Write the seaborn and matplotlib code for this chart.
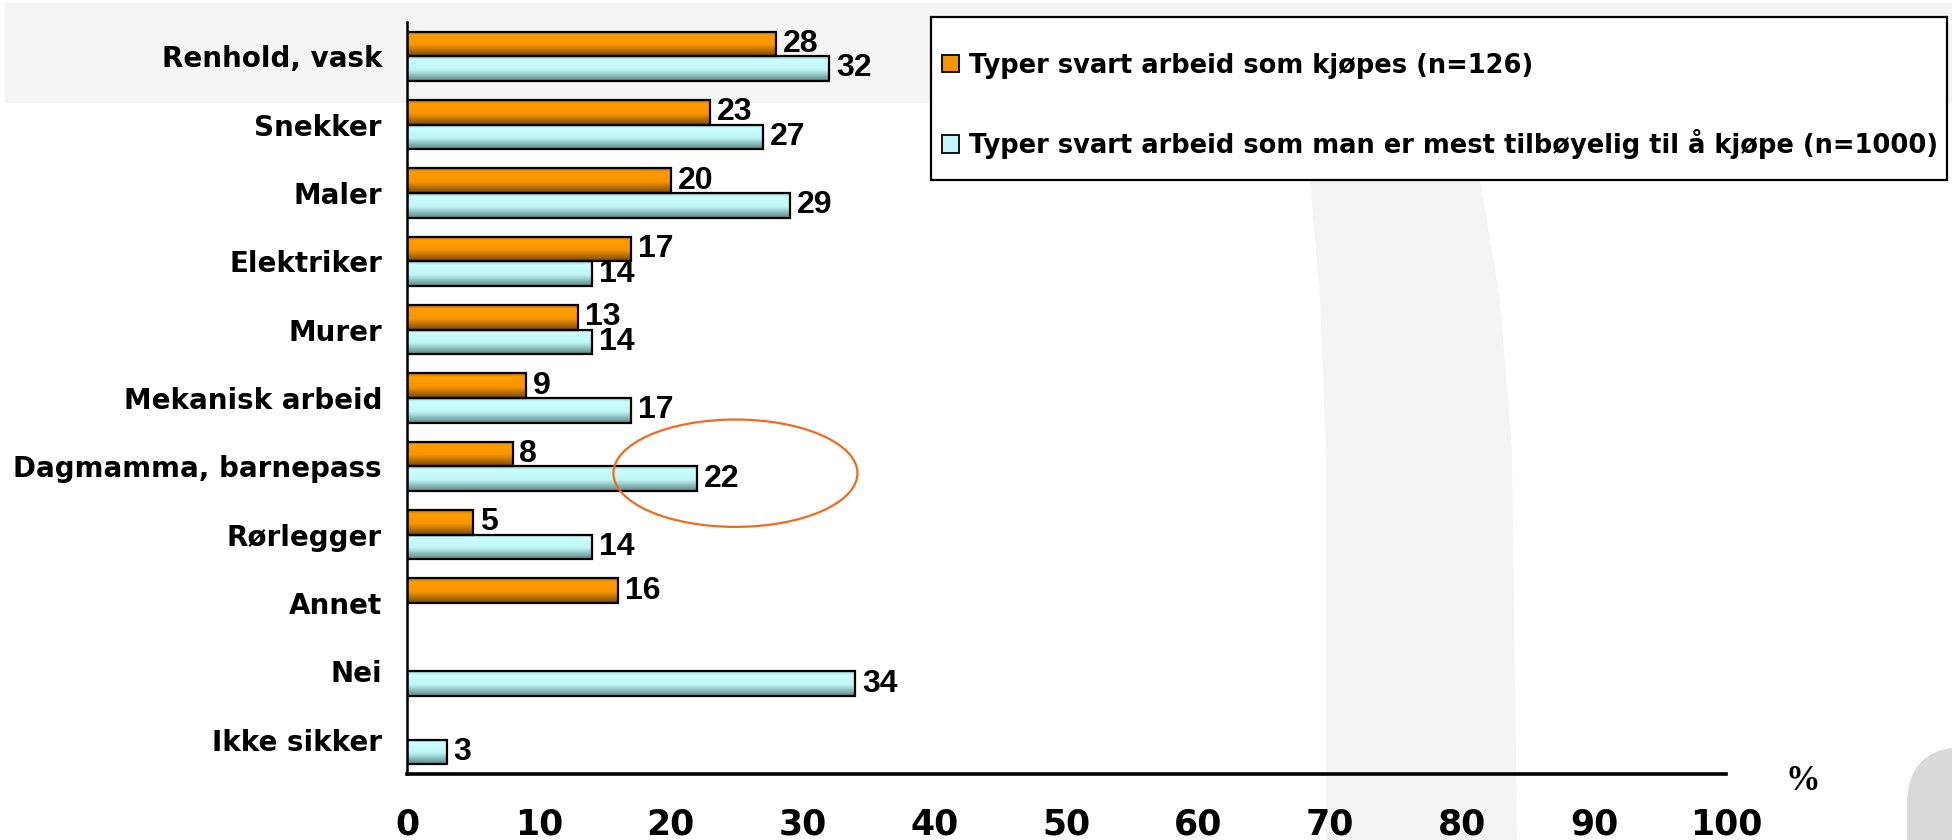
import numpy as np
import pandas as pd
import matplotlib
matplotlib.use("Agg")
import matplotlib.pyplot as plt
import seaborn as sns
from matplotlib.patches import Ellipse, Patch, Rectangle, Polygon, FancyBboxPatch
from matplotlib.colors import LinearSegmentedColormap

# data
categories = ["Renhold, vask", "Snekker", "Maler", "Elektriker", "Murer",
              "Mekanisk arbeid", "Dagmamma, barnepass", "Rørlegger",
              "Annet", "Nei", "Ikke sikker"]
kjopes = [28, 23, 20, 17, 13, 9, 8, 5, 16, np.nan, np.nan]
tilboyelig = [32, 27, 29, 14, 14, 17, 22, 14, np.nan, 34, 3]
series = ["Typer svart arbeid som kjøpes (n=126)",
          "Typer svart arbeid som man er mest tilbøyelig til å kjøpe (n=1000)"]
x_ticks = [0, 10, 20, 30, 40, 50, 60, 70, 80, 90, 100]

orange = "#F79400"
cyan = "#C4F7F7"

W, H = 1952, 840

df = pd.DataFrame({
    "kategori": categories * 2,
    "serie": [series[0]] * len(categories) + [series[1]] * len(categories),
    "prosent": kjopes + tilboyelig,
}).dropna()

sns.set_style("white")
plt.rcParams["font.family"] = ["DejaVu Sans"]
plt.rcParams["text.color"] = "black"
plt.rcParams["xtick.color"] = "black"
plt.rcParams["ytick.color"] = "black"
plt.rcParams["axes.labelcolor"] = "black"

fig = plt.figure(figsize=(W / 100, H / 100), dpi=100)
fig.patch.set_facecolor("white")


def fx(px):
    return px / W


def fy(py):
    return 1 - py / H


# slide template background shapes
fig.patches.append(Rectangle((fx(5), fy(103)), 1, 100 / H, transform=fig.transFigure,
                             facecolor="#F4F4F4", edgecolor="none", zorder=0))
band = [(1310, 180), (1480, 180), (1500, 300), (1512, 450), (1517, 840),
        (1326, 840), (1326, 450), (1320, 300)]
fig.patches.append(Polygon([(fx(a), fy(b)) for a, b in band], closed=True,
                           transform=fig.transFigure, facecolor="#F4F4F4",
                           edgecolor="none", zorder=0))
fig.patches.append(FancyBboxPatch((fx(1907), fy(900)), fx(100), 153 / H,
                                  boxstyle="round,pad=0,rounding_size=0.03",
                                  transform=fig.transFigure, facecolor="#D9D9DA",
                                  edgecolor="none", zorder=0, mutation_aspect=2.3))

ax = fig.add_axes([fx(407), fy(774), fx(1726) - fx(407), (774 - 22) / H])
ax.set_facecolor("none")
ax.set_zorder(1)

sns.barplot(data=df, y="kategori", x="prosent", hue="serie", order=categories,
            hue_order=series, palette=[orange, cyan], saturation=1, orient="h",
            width=0.72, edgecolor="black", linewidth=1.6, legend=False, ax=ax)

# shaded (cylinder-like) fill on each bar
cmap_or = LinearSegmentedColormap.from_list(
    "or", [(0, "#C27000"), (0.15, "#FF9C00"), (0.55, "#F89500"), (1, "#7A4A00")])
cmap_cy = LinearSegmentedColormap.from_list(
    "cy", [(0, "#9CC8C8"), (0.15, "#CCFFFF"), (0.55, "#C0F5F5"), (1, "#5A8888")])
grad = np.linspace(0, 1, 64).reshape(-1, 1)
for cont, cmap in zip(ax.containers, [cmap_or, cmap_cy]):
    for bar in cont:
        x0, y0 = bar.get_x(), bar.get_y()
        w, h = bar.get_width(), bar.get_height()
        im = ax.imshow(grad, cmap=cmap, extent=(x0, x0 + w, y0, y0 + h),
                       origin="lower", aspect="auto", zorder=2.1, interpolation="bilinear")
        im.set_clip_path(bar)
        bar.set_facecolor("none")
        bar.set_zorder(2.2)

for cont in ax.containers:
    ax.bar_label(cont, fmt="%g", padding=5, fontsize=23, fontweight="bold",
                 family="Liberation Sans", color="black")

ax.add_patch(Ellipse((24.9, 6.1), 18.5, 1.57, fill=False, edgecolor="#F26B1D",
                     linewidth=1.6, zorder=5))

ax.set_xlim(0, 100)
ax.set_ylim(len(categories) - 0.5, -0.5)
ax.set_xticks(x_ticks)
ax.set_xticklabels([str(t) for t in x_ticks], fontsize=25, fontweight="bold")
ax.set_yticks(range(len(categories)))
ax.set_yticklabels(categories, fontsize=20, fontweight="bold")
ax.set_yticks(np.arange(-0.5, len(categories)), minor=True)
ax.tick_params(axis="y", which="major", length=0, pad=18)
ax.tick_params(axis="y", which="minor", length=7, width=1.6, color="black", direction="out")
ax.tick_params(axis="x", length=11, width=1.3, color="black", direction="out", pad=13)
ax.set_xlabel("")
ax.set_ylabel("")
for side in ["top", "right"]:
    ax.spines[side].set_visible(False)
ax.spines["left"].set_linewidth(1.8)
ax.spines["left"].set_color("black")
ax.spines["bottom"].set_linewidth(2.6)
ax.spines["bottom"].set_color("black")

# legend box drawn separately so its size matches the slide
fig.patches.append(Rectangle((fx(931), fy(180)), fx(1947) - fx(931), (180 - 17) / H,
                             transform=fig.transFigure, facecolor="white",
                             edgecolor="black", linewidth=1.6, zorder=9))
handles = [Patch(facecolor=orange, edgecolor="black", linewidth=1.3, label=series[0]),
           Patch(facecolor=cyan, edgecolor="black", linewidth=1.3, label=series[1])]
leg = fig.legend(handles=handles, loc="center left", bbox_to_anchor=(fx(942), fy(106)),
                 frameon=False,
                 prop={"family": "DejaVu Sans", "weight": "bold", "size": 18.5},
                 handlelength=0.65, handleheight=0.65, handletextpad=0.4,
                 labelspacing=1.95, borderpad=0, borderaxespad=0)
leg.set_zorder(10)

fig.text(fx(1803), fy(782), "%", fontsize=25, fontweight="bold",
         family="Liberation Serif", ha="center", va="center")

fig.savefig("out.png", dpi=100)
